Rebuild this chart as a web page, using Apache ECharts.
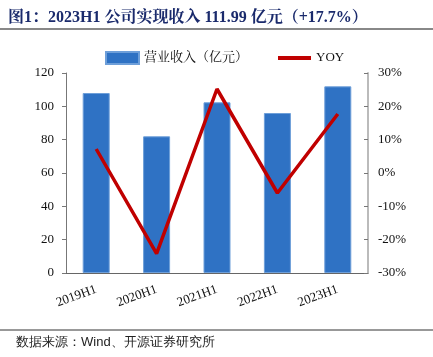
<!DOCTYPE html>
<html><head><meta charset="utf-8">
<script src="https://cdn.jsdelivr.net/npm/echarts@6/dist/echarts.min.js"></script>
<style>html,body{margin:0;padding:0;background:#fff}#c{width:433px;height:357px}</style>
</head><body><div id="c"></div>
<script>
const categories = ['2019H1','2020H1','2021H1','2022H1','2023H1'];
const revenue = [108, 82, 102.4, 96, 111.99];
const yoy = [7.2, -24.2, 25.2, -6.0, 17.7];
const leftTicks = [0, 120, 20];
const rightTicks = [-30, 30, 10];

const serif = '"Times New Roman","Liberation Serif","Noto Serif CJK SC","Noto Sans CJK SC",serif';
const chart = echarts.init(document.getElementById('c'));
chart.setOption({
  animation: false,
  title: {
    text: '图1：2023H1 公司实现收入 111.99 亿元（+17.7%）',
    left: 3, top: 5,
    textStyle: {fontSize: 16, fontWeight: 'bold', color: '#1a2a6c', fontFamily: serif}
  },
  graphic: [
    {type: 'line', shape: {x1: 0, y1: 29, x2: 433, y2: 29}, style: {stroke: '#888', lineWidth: 2}},
    {type: 'line', shape: {x1: 0, y1: 330, x2: 433, y2: 330}, style: {stroke: '#333', lineWidth: 1}},
    {type: 'text', left: 16, top: 336, style: {text: '数据来源：Wind、开源证券研究所', fontSize: 13, fill: '#222', font: '13px ' + serif}}
  ],
  legend: {
    top: 46, left: 100, itemGap: 28, itemWidth: 33, itemHeight: 12,
    textStyle: {fontSize: 13, color: '#111', fontFamily: serif},
    data: [
      {name: '营业收入（亿元）', icon: 'rect'},
      {name: 'YOY', itemStyle: {opacity: 0}, lineStyle: {width: 4, color: '#C00000'}}
    ]
  },
  grid: {left: 66, right: 65, top: 73, bottom: 84, containLabel: false},
  xAxis: {
    type: 'category', data: categories,
    axisLine: {lineStyle: {color: '#666'}},
    axisTick: {inside: true, length: 5, lineStyle: {color: '#888'}},
    axisLabel: {rotate: 20, color: '#111', fontSize: 13, fontFamily: serif, margin: 16}
  },
  yAxis: [
    {type: 'value', min: leftTicks[0], max: leftTicks[1], interval: leftTicks[2],
     axisLine: {show: true, lineStyle: {color: '#777'}},
     axisTick: {show: true, length: 4, lineStyle: {color: '#777'}},
     splitLine: {show: false},
     axisLabel: {color: '#111', fontSize: 13, fontFamily: serif, margin: 12}},
    {type: 'value', min: rightTicks[0], max: rightTicks[1], interval: rightTicks[2],
     position: 'right',
     axisLine: {show: true, lineStyle: {color: '#bbb', width: 2}},
     axisTick: {show: true, inside: true, length: 4, lineStyle: {color: '#777'}},
     splitLine: {show: false},
     axisLabel: {color: '#111', fontSize: 13, fontFamily: serif, margin: 10, formatter: v => v + '%'}}
  ],
  series: [
    {name: '营业收入（亿元）', type: 'bar', data: revenue, barWidth: 27,
     itemStyle: {color: '#2F72C4', borderColor: '#6E9FD9', borderWidth: 1}},
    {name: 'YOY', type: 'line', yAxisIndex: 1, data: yoy, symbol: 'none',
     lineStyle: {color: '#C00000', width: 3.5}, itemStyle: {color: '#C00000'}}
  ]
});
</script></body></html>
